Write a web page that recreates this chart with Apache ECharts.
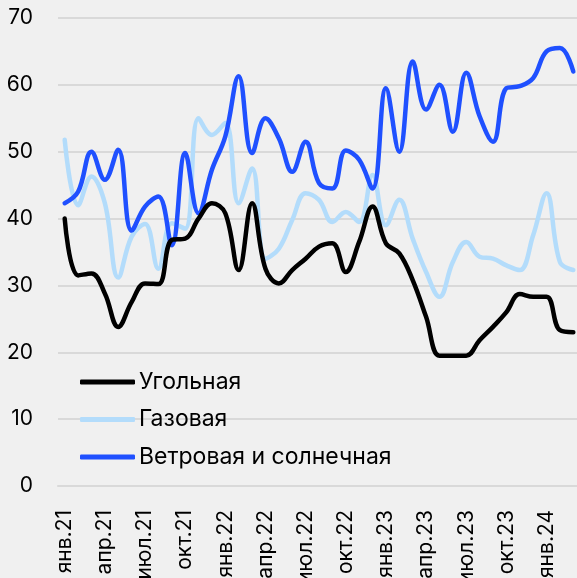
<!DOCTYPE html>
<html>
<head>
<meta charset="utf-8">
<script src="https://cdn.jsdelivr.net/npm/echarts@6/dist/echarts.min.js"></script>
<style>
  html, body { margin: 0; padding: 0; background: #f0f0f0; }
  #main { width: 577px; height: 578px; }
</style>
</head>
<body>
<div id="main"></div>
<script>
const months = ['янв', 'фев', 'мар', 'апр', 'май', 'июн', 'июл', 'авг', 'сен', 'окт', 'ноя', 'дек'];
const categories = [];
for (let y = 21; y <= 24; y++) {
  for (let m = 0; m < 12; m++) {
    if (y === 24 && m > 2) break;
    categories.push(months[m] + '.' + y);
  }
}

const coal = [40, 31.5, 31.8, 28.8, 23.8, 27.5, 30.3, 30.2, 36.8, 37, 40, 42.3, 40.8,
  32.3, 42.3, 32.5, 30.3, 32.3, 34, 35.8, 36.3, 32, 36.5, 41.8, 36.3, 34.8, 30.8,
  25.3, 19.5, 19.5, 19.5, 21.8, 23.8, 26, 28.7, 28.3, 28.3, 23.3, 23];
const gas = [51.8, 42, 46.3, 42.3, 31.2, 37.3, 39.2, 32.5, 39.3, 38.5, 55, 52.5, 54.3,
  42.3, 47.5, 34, 35.5, 39.8, 43.8, 42.8, 39.5, 41, 39.5, 46.5, 39, 42.8, 37,
  32, 28.3, 33.5, 36.5, 34.3, 34, 33, 32.3, 37.5, 43.8, 33.5, 32.3];
const renew = [42.3, 44, 50, 45.8, 50.3, 38.2, 41.8, 43.3, 36, 49.8, 40.8, 47.3, 52.3,
  61.3, 49.8, 55, 52, 47, 51.5, 45.3, 44.5, 50.2, 48.8, 44.5, 59.5, 50, 63.5,
  56.3, 60, 53, 61.8, 55.3, 51.5, 59.5, 59.8, 61, 65, 65.5, 62];

const seriesNames = ['Угольная', 'Газовая', 'Ветровая и солнечная'];
const colors = ['#000000', '#b3dcfb', '#1f50ff'];

const chart = echarts.init(document.getElementById('main'));
const font = 'Inter, "Noto Sans", sans-serif';

const option = {
  backgroundColor: '#f0f0f0',
  animation: false,
  textStyle: { fontFamily: font },
  grid: { left: 58, width: 522, top: 18, bottom: 92, outerBoundsMode: 'none', containLabel: false },
  legend: {
    orient: 'vertical',
    left: 80,
    top: 370,
    padding: 0,
    icon: 'roundRect',
    itemWidth: 55,
    itemHeight: 5,
    itemGap: 13.5,
    data: seriesNames,
    textStyle: { fontSize: 23, color: '#000', lineHeight: 24, padding: [0, 0, 0, -1] }
  },
  xAxis: {
    type: 'category',
    data: categories,
    boundaryGap: true,
    axisLine: { lineStyle: { color: '#d9d9d9', width: 2 } },
    axisTick: { interval: 2, length: 9, lineStyle: { color: '#d9d9d9', width: 2 } },
    axisLabel: { interval: 2, rotate: 90, fontSize: 21, color: '#000', margin: 24 }
  },
  yAxis: {
    type: 'value',
    min: 0,
    max: 70,
    interval: 10,
    axisLine: { show: false },
    axisTick: { show: false },
    axisLabel: { fontSize: 21, color: '#000', margin: 25 },
    splitLine: { lineStyle: { color: '#d9d9d9', width: 2 } }
  },
  series: seriesNames.map((name, i) => ({
    name: name,
    type: 'line',
    data: [coal, gas, renew][i],
    smooth: 0.4,
    symbol: 'none',
    z: i === 0 ? 4 : (i === 2 ? 3 : 2),
    itemStyle: { color: colors[i] },
    lineStyle: { color: colors[i], width: 4.5, cap: 'round', join: 'round' }
  }))
};

chart.setOption(option);
</script>
</body>
</html>
